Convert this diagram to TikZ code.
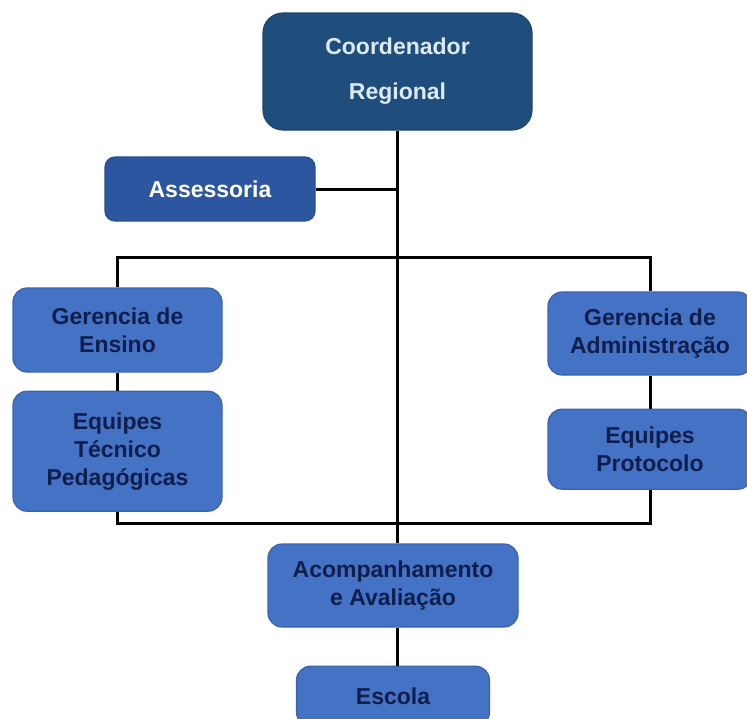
\documentclass[tikz,border=0pt]{standalone}
\usepackage{fontspec}
\setmainfont{Liberation Sans}
\usepackage{tikz}
\usetikzlibrary{positioning}

\definecolor{coordfill}{HTML}{1F4E7C}
\definecolor{coordtext}{HTML}{DDEAF6}
\definecolor{assessfill}{HTML}{2C56A0}
\definecolor{unitfill}{HTML}{4472C4}
\definecolor{unitedge}{HTML}{3A63AE}
\definecolor{unittext}{HTML}{0F1E4C}

\begin{document}
\begin{tikzpicture}[
    x=0.5pt, y=-0.5pt,
    unit/.style={rectangle, rounded corners=7pt, fill=unitfill, draw=unitedge,
        line width=0.6pt, text=unittext, align=center, inner sep=0pt,
        font={\fontsize{11.5}{14}\selectfont\bfseries}},
    boss/.style={unit, rounded corners=10pt, fill=coordfill, draw=coordfill!90!black,
        text=coordtext, font={\fontsize{11.5}{22.5}\selectfont\bfseries}},
    staff/.style={unit, rounded corners=5pt, fill=assessfill, draw=assessfill!90!black,
        text=white},
    link/.style={draw=black, line width=1.5pt}
]

\clip (0,0) rectangle (747,718);
\fill[white] (0,0) rectangle (747,718);

% Nodes
\node[boss, minimum width=134.5pt, minimum height=58.5pt] (coord) at (397.5,71.5)
    {Coordenador\\Regional};
\node[staff, minimum width=105pt, minimum height=32pt] (assess) at (210,189)
    {Assessoria};
\node[unit, minimum width=104.5pt, minimum height=42pt] (gensino) at (117.5,330)
    {Gerencia de\\Ensino};
\node[unit, minimum width=104.5pt, minimum height=60pt, below=9pt of gensino] (eqtec)
    {Equipes\\Técnico\\Pedagógicas};
\node[unit, minimum width=102pt, minimum height=41.5pt] (gadmin) at (650,333.5)
    {Gerencia de\\Administração};
\node[unit, minimum width=102pt, minimum height=40pt, below=16.5pt of gadmin] (eqprot)
    {Equipes\\Protocolo};
\node[unit, minimum width=125pt, minimum height=41.5pt] (acomp) at (393,585.5)
    {Acompanhamento\\e Avaliação};
\node[unit, minimum width=96.5pt, minimum height=30pt, below=19pt of acomp] (escola)
    {Escola};

% Bars
\coordinate (topbar) at (0,257);
\coordinate (botbar) at (0,523);

% Trunk and staff line
\draw[link] (coord.south) -- (coord.south |- acomp.north);
\draw[link] (assess.east) -- (assess.east -| coord.south);

% Top bar to the two managers
\draw[link] (gensino.north) -- (gensino.north |- topbar) -- (gadmin.north |- topbar)
    -- (gadmin.north);

% Managers to their teams
\draw[link] (gensino.south) -- (gensino.south |- eqtec.north);
\draw[link] (gadmin.south) -- (gadmin.south |- eqprot.north);

% Bottom bar joining the teams
\draw[link] (eqtec.south) -- (eqtec.south |- botbar) -- (eqprot.south |- botbar)
    -- (eqprot.south);

% Follow-up to school
\draw[link] (coord.south |- acomp.south) -- (coord.south |- escola.north);

\end{tikzpicture}
\end{document}
